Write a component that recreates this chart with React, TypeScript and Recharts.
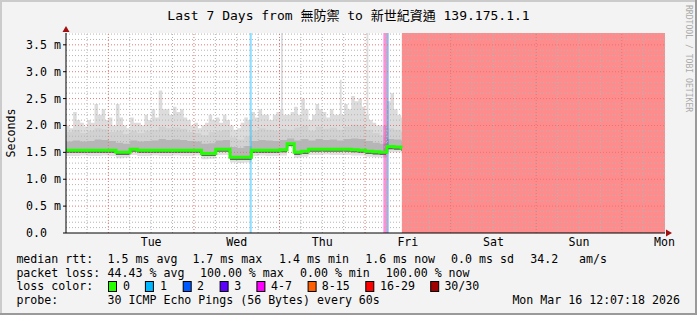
import React from 'react';
import {
  ComposedChart,
  Area,
  Line,
  XAxis,
  YAxis,
  CartesianGrid,
  ReferenceArea,
  ReferenceLine,
  ReferenceDot,
} from 'recharts';

// time in hours since Mon Mar 9 12:07 (window = 7 days = 168 h)
const hours = [0, 2, 4, 6, 8, 10, 12, 14, 16, 18, 20, 22, 24, 26, 28, 30, 32, 34, 36, 38, 40, 42, 44, 46, 48, 50, 52, 54, 56, 58, 60, 62, 64, 66, 68, 70, 72, 74, 76, 78, 80, 82, 84, 86, 88, 90, 92, 94, 94.2];

// round-trip times in ms (2-hour bins)
const hiMs = [1.88, 1.92, 1.86, 1.9, 1.95, 1.93, 1.88, 1.9, 1.84, 1.9, 1.86, 1.9, 1.92, 1.98, 1.95, 1.96, 1.94, 1.88, 1.86, 1.82, 1.88, 1.9, 1.92, 1.78, 1.74, 1.8, 1.9, 1.95, 1.92, 1.9, 1.94, 1.92, 1.96, 2.0, 1.9, 1.98, 1.94, 1.96, 1.92, 1.98, 2.02, 2.0, 1.92, 1.86, 1.82, 1.95, 1.92, 1.88, 1.88];
const midMs = [1.70, 1.72, 1.70, 1.71, 1.74, 1.73, 1.71, 1.68, 1.66, 1.72, 1.70, 1.71, 1.72, 1.75, 1.73, 1.74, 1.73, 1.71, 1.70, 1.66, 1.67, 1.72, 1.73, 1.60, 1.58, 1.62, 1.71, 1.73, 1.72, 1.71, 1.73, 1.76, 1.72, 1.75, 1.72, 1.75, 1.73, 1.74, 1.72, 1.75, 1.76, 1.75, 1.71, 1.68, 1.66, 1.75, 1.74, 1.72, 1.72];
const medianMs = [1.54, 1.54, 1.54, 1.54, 1.54, 1.54, 1.54, 1.50, 1.50, 1.56, 1.54, 1.54, 1.54, 1.54, 1.54, 1.54, 1.54, 1.54, 1.54, 1.48, 1.48, 1.56, 1.56, 1.41, 1.41, 1.41, 1.54, 1.54, 1.54, 1.54, 1.55, 1.66, 1.50, 1.52, 1.56, 1.56, 1.56, 1.56, 1.56, 1.56, 1.55, 1.54, 1.52, 1.51, 1.50, 1.61, 1.60, 1.58, 1.58];
const loMs = [1.49, 1.49, 1.49, 1.49, 1.49, 1.49, 1.49, 1.45, 1.45, 1.51, 1.49, 1.49, 1.49, 1.49, 1.49, 1.49, 1.49, 1.49, 1.49, 1.43, 1.43, 1.51, 1.51, 1.36, 1.36, 1.36, 1.49, 1.49, 1.49, 1.49, 1.50, 1.62, 1.45, 1.47, 1.51, 1.51, 1.51, 1.51, 1.51, 1.51, 1.50, 1.49, 1.47, 1.46, 1.45, 1.56, 1.55, 1.53, 1.53];
const minMs = [1.43, 1.43, 1.44, 1.43, 1.43, 1.44, 1.43, 1.39, 1.40, 1.45, 1.43, 1.43, 1.44, 1.43, 1.43, 1.44, 1.43, 1.43, 1.44, 1.37, 1.38, 1.45, 1.45, 1.31, 1.30, 1.31, 1.43, 1.44, 1.43, 1.43, 1.44, 1.60, 1.40, 1.42, 1.45, 1.45, 1.46, 1.45, 1.45, 1.45, 1.44, 1.44, 1.42, 1.41, 1.40, 1.50, 1.50, 1.48, 1.48];

// hourly maximum ping (spiky top of the smoke)
const maxHours = [0, 1, 2, 3, 4, 5, 6, 7, 8, 9, 10, 11, 12, 13, 14, 15, 16, 17, 18, 19, 20, 21, 22, 23, 24, 25, 26, 27, 28, 29, 30, 31, 32, 33, 34, 35, 36, 37, 38, 39, 40, 41, 42, 43, 44, 45, 46, 47, 48, 49, 50, 51, 52, 53, 54, 55, 56, 57, 58, 59, 60, 60.3, 60.8, 61, 62, 63, 64, 65, 66, 67, 68, 69, 70, 71, 72, 73, 74, 75, 76, 76.8, 77.3, 78, 79, 80, 81, 82, 83, 84, 84.3, 84.8, 85, 86, 87, 88, 89, 90, 91, 92, 93, 94, 94.2];
const maxMs = [2.0, 1.95, 2.25, 2.1, 2.05, 1.98, 2.1, 2.05, 2.4, 2.2, 2.3, 2.1, 2.15, 2.0, 2.4, 2.15, 2.0, 1.95, 2.15, 2.05, 2.05, 2.0, 2.2, 2.1, 2.3, 2.15, 2.65, 2.3, 2.3, 2.2, 2.35, 2.25, 2.3, 2.15, 2.1, 2.0, 2.05, 1.95, 2.0, 2.05, 2.2, 2.1, 2.15, 2.05, 2.2, 2.1, 2.0, 1.92, 1.95, 2.05, 2.15, 2.1, 2.25, 2.15, 2.3, 2.2, 2.2, 2.1, 2.2, 2.25, 2.3, 3.72, 2.3, 2.2, 2.2, 2.25, 2.35, 2.2, 2.5, 2.3, 2.1, 2.2, 2.4, 2.3, 2.25, 2.15, 2.3, 2.2, 2.2, 2.85, 2.2, 2.4, 2.3, 2.55, 2.45, 2.5, 2.35, 2.2, 3.72, 2.2, 2.1, 2.05, 2.0, 2.0, 2.0, 2.45, 2.6, 2.3, 2.2, 2.15, 2.15];
const maxBaseMs = 1.6;

// loss background spans (hours) and their loss colours
const lossFrom = [51.5, 89.0, 89.55, 89.95, 94.2];
const lossTo = [52.1, 89.55, 89.95, 90.5, 168];
const lossColor = ['#00b8ff', '#ff00ff', '#ff0000', '#0059ff', '#ff0000'];

const dayTicks = [23.88, 47.88, 71.88, 95.88, 119.88, 143.88, 167.88];
const dayLabels = ['Tue', 'Wed', 'Thu', 'Fri', 'Sat', 'Sun', 'Mon'];
const yTicks = [0, 0.5, 1, 1.5, 2, 2.5, 3, 3.5];
const yMinorGrid = [0.1, 0.2, 0.3, 0.4, 0.6, 0.7, 0.8, 0.9, 1.1, 1.2, 1.3, 1.4, 1.6, 1.7, 1.8, 1.9, 2.1, 2.2, 2.3, 2.4, 2.6, 2.7, 2.8, 2.9, 3.1, 3.2, 3.3, 3.4, 3.6, 3.7];
const xMajorGrid = [11.88, 35.88, 59.88, 83.88, 107.88, 131.88, 155.88];
const xMinorGrid = [5.88, 17.88, 23.88, 29.88, 41.88, 47.88, 53.88, 65.88, 71.88, 77.88, 89.88, 95.88, 101.88, 113.88, 119.88, 125.88, 137.88, 143.88, 149.88, 161.88, 167.88];

const legendColors = ['#26ff00', '#00b8ff', '#0059ff', '#5e00ff', '#ff00ff', '#ff5e00', '#ff0000', '#a10000'];
const legendLabels = ['0', '1', '2', '3', '4-7', '8-15', '16-29', '30/30'];

const data = hours.map((h, i) => ({
  h,
  low: [minMs[i], hiMs[i]],
  hi: [loMs[i], hiMs[i]],
  mid: [loMs[i], midMs[i]],
  dark: [loMs[i], medianMs[i]],
  median: medianMs[i],
}));
const maxData = maxHours.map((h, i) => ({ h, top: [maxBaseMs, maxMs[i]] }));

const MONO = "'DejaVu Sans Mono', 'Noto Sans CJK TC', monospace";
const FS = 11.6;

const YTick = (props: any) => {
  const { x, y, payload } = props;
  const v = payload.value as number;
  const label = v === 0 ? '0.0' : v.toFixed(1) + ' m';
  return (
    <text x={v === 0 ? x - 14 : x} y={y} dy={4} textAnchor="end" fontFamily={MONO} fontSize={FS} fill="#000">
      {label}
    </text>
  );
};

const ArrowRight = (props: any) => {
  const { cx, cy } = props;
  return <polygon points={`${cx + 1},${cy - 3.5} ${cx + 7},${cy} ${cx + 1},${cy + 3.5}`} fill="#a01010" />;
};
const ArrowUp = (props: any) => {
  const { cx, cy } = props;
  return <polygon points={`${cx - 3.5},${cy - 1} ${cx},${cy - 7} ${cx + 3.5},${cy - 1}`} fill="#a01010" />;
};

const row1 = [
  { x: 16.4, t: 'median rtt:' },
  { x: 107.6, t: '1.5 ms avg' },
  { x: 192.4, t: '1.7 ms max' },
  { x: 279.1, t: '1.4 ms min' },
  { x: 365.3, t: '1.6 ms now' },
  { x: 451.1, t: '0.0 ms sd' },
  { x: 530.2, t: '34.2' },
  { x: 579.1, t: 'am/s' },
];
const row2 = [
  { x: 16.4, t: 'packet loss:' },
  { x: 107.6, t: '44.43 % avg' },
  { x: 200, t: '100.00 % max' },
  { x: 300, t: '0.00 % min' },
  { x: 385.8, t: '100.00 % now' },
];
const boxX = [108, 144.9, 182.7, 219.6, 256.4, 307.6, 365.3, 430.2];
const labX = [123.1, 160, 196.9, 234.2, 271.1, 321.8, 380, 444.4];

const noAnim = { isAnimationActive: false, dot: false, activeDot: false } as const;

export default function App() {
  return (
    <div style={{ position: 'absolute', left: 0, top: 0, width: 697, height: 315, background: '#f3f3f3', overflow: 'hidden' }}>
      <div style={{ position: 'absolute', left: 0, top: 0 }}>
        <ComposedChart width={697} height={315} data={data} margin={{ top: 33, right: 32, bottom: 52, left: 6 }}>
          <CartesianGrid fill="#ffffff" horizontal={false} vertical={false} />
          <XAxis
            dataKey="h"
            type="number"
            domain={[0, 168]}
            ticks={dayTicks}
            tickFormatter={(v: number) => dayLabels[dayTicks.indexOf(v)]}
            allowDataOverflow
            height={30}
            tickLine={false}
            tickSize={0}
            tickMargin={5}
            axisLine={{ stroke: '#000' }}
            tick={{ fill: '#000', fontSize: FS, fontFamily: MONO }}
            interval={0}
          />
          <YAxis
            type="number"
            domain={[0, 3.72]}
            ticks={yTicks}
            allowDataOverflow
            width={60}
            tickSize={3}
            tickMargin={2}
            tickLine={{ stroke: '#000' }}
            axisLine={{ stroke: '#000' }}
            tick={<YTick />}
            interval={0}
          />
          <Area data={maxData} type="stepAfter" dataKey="top" stroke="none" fill="#dcdcdc" fillOpacity={1} {...noAnim} />
          <Area type="stepAfter" dataKey="low" stroke="none" fill="#e0e0e0" fillOpacity={1} {...noAnim} />
          <Area type="stepAfter" dataKey="hi" stroke="none" fill="#d1d1d1" fillOpacity={1} {...noAnim} />
          <Area type="stepAfter" dataKey="mid" stroke="none" fill="#b6b6b6" fillOpacity={1} {...noAnim} />
          <Area type="stepAfter" dataKey="dark" stroke="none" fill="#666666" fillOpacity={1} {...noAnim} />
          {lossFrom.map((f, i) => (
            <ReferenceArea key={'l' + i} x1={f} x2={lossTo[i]} y1={0} y2={3.72} fill={lossColor[i]} fillOpacity={0.45} stroke="none" ifOverflow="hidden" />
          ))}
          {yMinorGrid.map((v) => (
            <ReferenceLine key={'ym' + v} y={v} stroke="#b4b4b4" strokeDasharray="1 2" />
          ))}
          {xMinorGrid.map((v) => (
            <ReferenceLine key={'xm' + v} x={v} stroke="#b4b4b4" strokeDasharray="1 2" />
          ))}
          {yTicks.filter((v) => v > 0).map((v) => (
            <ReferenceLine key={'yM' + v} y={v} stroke="#e07878" strokeDasharray="1 2" />
          ))}
          {xMajorGrid.map((v) => (
            <ReferenceLine key={'xM' + v} x={v} stroke="#e07878" strokeDasharray="1 2" />
          ))}
          <Line type="stepAfter" dataKey="median" stroke="#22ff00" strokeWidth={3} {...noAnim} />
          <ReferenceDot x={168} y={0} r={0} shape={<ArrowRight />} ifOverflow="visible" />
          <ReferenceDot x={0} y={3.72} r={0} shape={<ArrowUp />} ifOverflow="visible" />
        </ComposedChart>
      </div>
      <svg width={697} height={315} style={{ position: 'absolute', left: 0, top: 0, pointerEvents: 'none' }}>
        <rect x={0} y={0} width={697} height={2} fill="#cbcbcb" />
        <rect x={0} y={0} width={2} height={315} fill="#cbcbcb" />
        <rect x={695} y={0} width={2} height={315} fill="#9a9a9a" />
        <rect x={0} y={313} width={697} height={2} fill="#9a9a9a" />
        <text x={348.5} y={19.5} textAnchor="middle" fontFamily={MONO} fontSize={13} fill="#000">
          Last 7 Days from 無防禦 to 新世紀資通 139.175.1.1
        </text>
        <text transform="translate(15,133) rotate(-90)" textAnchor="middle" fontFamily={MONO} fontSize={FS} fill="#000">
          Seconds
        </text>
        <text transform="translate(686,5) rotate(90)" fontFamily={MONO} fontSize={8.1} fill="#aaaaaa">
          RRDTOOL / TOBI OETIKER
        </text>
        {row1.map((r, i) => (
          <text key={'r1' + i} x={r.x} y={263} fontFamily={MONO} fontSize={FS} fill="#000">
            {r.t}
          </text>
        ))}
        {row2.map((r, i) => (
          <text key={'r2' + i} x={r.x} y={276.5} fontFamily={MONO} fontSize={FS} fill="#000">
            {r.t}
          </text>
        ))}
        <text x={16.4} y={290} fontFamily={MONO} fontSize={FS} fill="#000">loss color:</text>
        {legendColors.map((c, i) => (
          <g key={'lc' + i}>
            <rect x={boxX[i] + 0.5} y={281.5} width={8} height={10} fill={c} stroke="#000" strokeWidth={1} />
            <text x={labX[i]} y={290} fontFamily={MONO} fontSize={FS} fill="#000">{legendLabels[i]}</text>
          </g>
        ))}
        <text x={16.4} y={304} fontFamily={MONO} fontSize={FS} fill="#000">probe:</text>
        <text x={107.6} y={304} fontFamily={MONO} fontSize={FS} fill="#000">30 ICMP Echo Pings (56 Bytes) every 60s</text>
        <text x={512.4} y={304} fontFamily={MONO} fontSize={FS} fill="#000">Mon Mar 16 12:07:18 2026</text>
      </svg>
    </div>
  );
}
